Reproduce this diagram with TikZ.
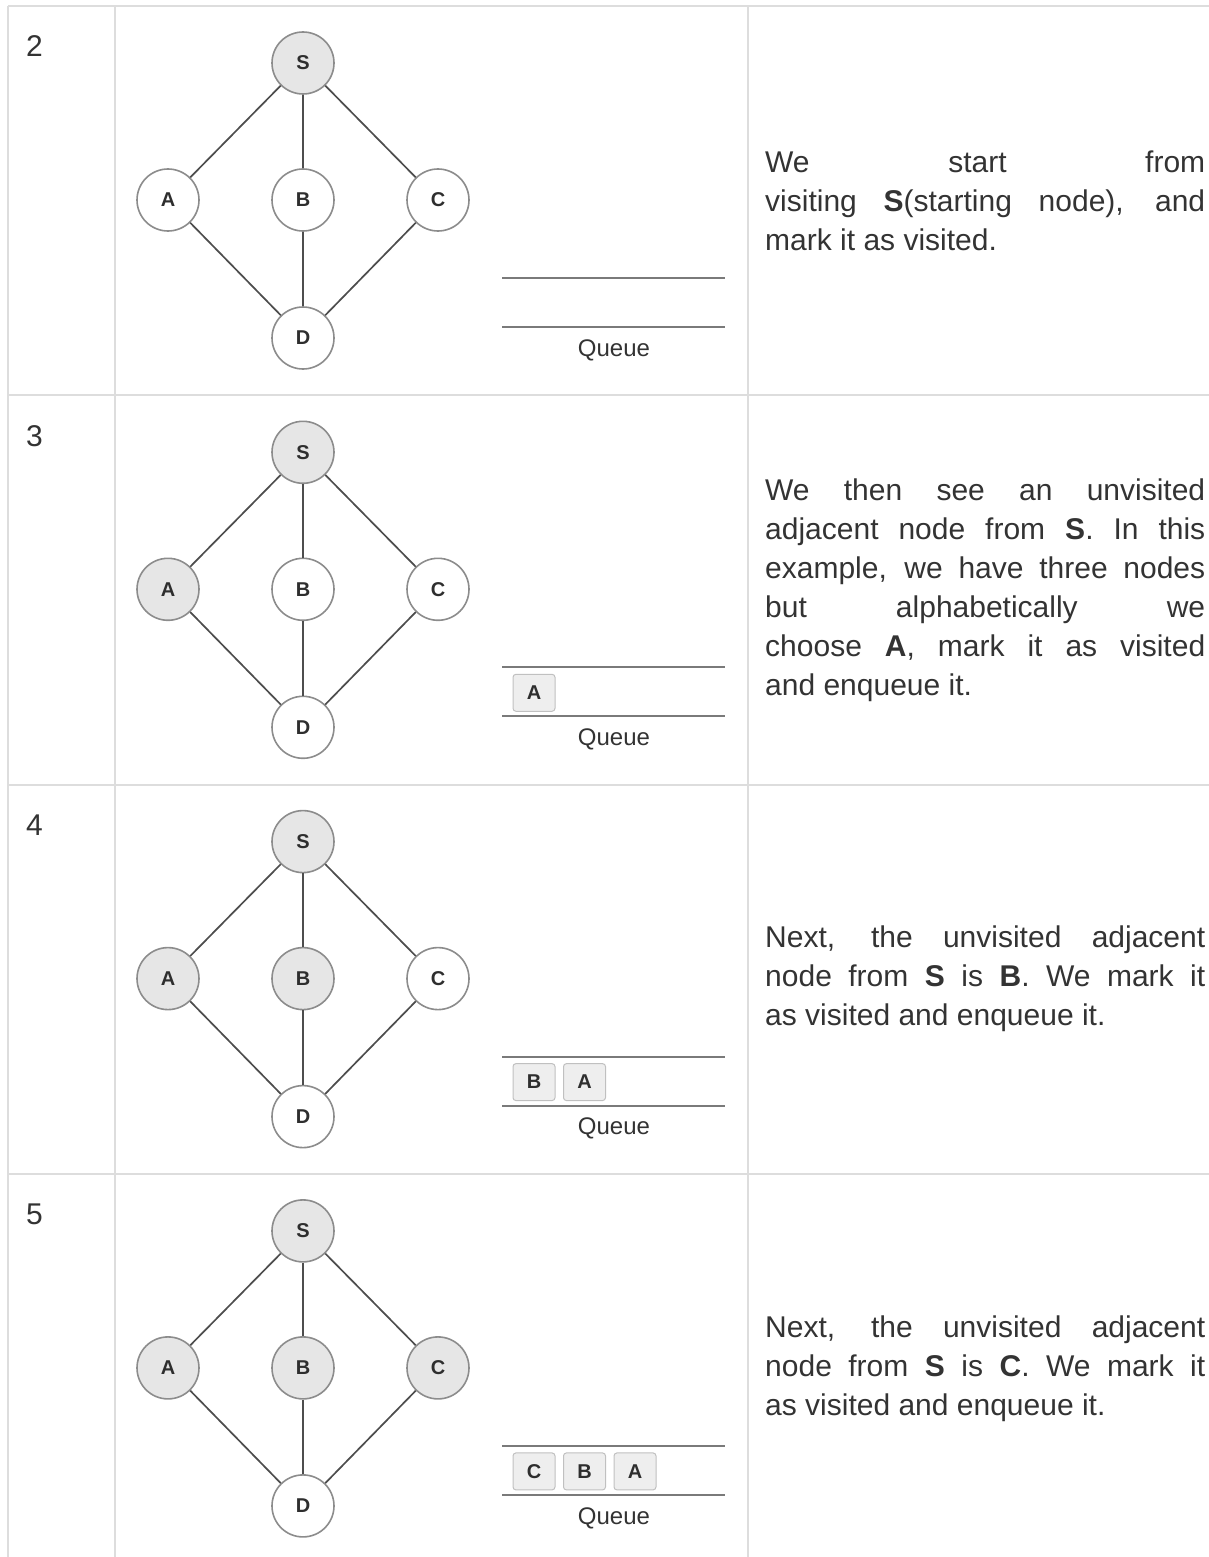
\documentclass[tikz,border=0pt]{standalone}
\usepackage{fontspec}
\setmainfont{Liberation Sans}
\usepackage{tikz}
\usetikzlibrary{positioning, calc}
\definecolor{gridgray}{HTML}{DDDDDD}
\definecolor{inkgray}{HTML}{333333}
\definecolor{edgegray}{HTML}{4D4D4D}
\definecolor{ringgray}{HTML}{8C8C8C}
\definecolor{visitfill}{HTML}{E6E6E6}
\definecolor{slotfill}{HTML}{EEEEEE}
\definecolor{queuegray}{HTML}{7A7A7A}

\begin{document}
\begin{tikzpicture}[x=1pt, y=-1pt]
  \tikzstyle{vx}=[circle, draw=ringgray, line width=1.6pt, fill=white,
    minimum size=62pt, inner sep=0pt, text=inkgray!90!black,
    font=\fontsize{20}{20}\selectfont\bfseries]
  \tikzstyle{ed}=[edgegray, line width=1.7pt]
  \tikzstyle{slot}=[draw=ringgray!55, fill=slotfill, rounded corners=3pt,
    line width=1pt, minimum width=42pt, minimum height=37pt, inner sep=0pt,
    text=inkgray!90!black, font=\fontsize{20}{20}\selectfont\bfseries]
  \tikzstyle{tabline}=[gridgray, line width=2pt]
  \tikzstyle{qline}=[queuegray, line width=2pt]
  \tikzstyle{txt}=[anchor=west, text width=440pt, align=justify,
    inner sep=0pt, text=inkgray, font=\fontsize{30}{39}\selectfont]
  \tikzstyle{num}=[anchor=base west, inner sep=0pt, text=inkgray,
    font=\fontsize{30}{30}\selectfont]

  \useasboundingbox (0,0) rectangle (1209,1557);

  % table rules
  \draw[tabline] (8,6) -- (1209,6);
  \draw[tabline] (8,6) -- (8,1557);
  \draw[tabline] (115,6) -- (115,1557);
  \draw[tabline] (748,6) -- (748,1557);
  \foreach \yy in {395.3, 784.6, 1173.9}
    \draw[tabline] (8,\yy) -- (1209,\yy);

  % one row per step
  \foreach \r/\n/\fa/\fb/\fc in {0/2/white/white/white,
      1/3/visitfill/white/white, 2/4/visitfill/visitfill/white,
      3/5/visitfill/visitfill/visitfill}{
    \pgfmathsetmacro\y{6+389.3*\r}
    \node[num] (n\n) at (26,\y+51) {\n};

    \node[vx, fill=visitfill] (s\n) at (303,\y+57)  {S};
    \node[vx, fill=\fa]       (a\n) at (168,\y+194) {A};
    \node[vx, fill=\fb]       (b\n) at (303,\y+194) {B};
    \node[vx, fill=\fc]       (c\n) at (438,\y+194) {C};
    \node[vx]                 (d\n) at (303,\y+332) {D};

    \draw[ed] (s\n)--(a\n);
    \draw[ed] (s\n)--(b\n);
    \draw[ed] (s\n)--(c\n);
    \draw[ed] (a\n)--(d\n);
    \draw[ed] (b\n)--(d\n);
    \draw[ed] (c\n)--(d\n);

    \draw[qline] (502,\y+272) -- (725,\y+272);
    \draw[qline] (502,\y+321) -- (725,\y+321);
    \node[text=inkgray, font=\fontsize{24}{24}\selectfont]
      (ql\n) at (614,\y+344) {Queue};
  }

  % queue contents
  \node[slot] (q3a) at (534,692.8)  {A};
  \node[slot] (q4b) at (534,1082.1) {B};
  \node[slot] (q4a) at (584.5,1082.1) {A};
  \node[slot] (q5c) at (534,1471.4) {C};
  \node[slot] (q5b) at (584.5,1471.4) {B};
  \node[slot] (q5a) at (635,1471.4) {A};

  % explanations
  \node[txt] (t2) at (765,200.6)
    {We start from\linebreak visiting \textbf{S}(starting node), and\linebreak
     mark it as visited.};
  \node[txt] (t3) at (765,589.9)
    {We then see an unvisited\linebreak adjacent node from \textbf{S}. In this\linebreak
     example, we have three nodes\linebreak but alphabetically we\linebreak
     choose \textbf{A}, mark it as visited\linebreak and enqueue it.};
  \node[txt] (t4) at (765,979.2)
    {Next, the unvisited adjacent\linebreak node from \textbf{S} is \textbf{B}. We mark it\linebreak
     as visited and enqueue it.};
  \node[txt] (t5) at (765,1368.5)
    {Next, the unvisited adjacent\linebreak node from \textbf{S} is \textbf{C}. We mark it\linebreak
     as visited and enqueue it.};
\end{tikzpicture}
\end{document}
